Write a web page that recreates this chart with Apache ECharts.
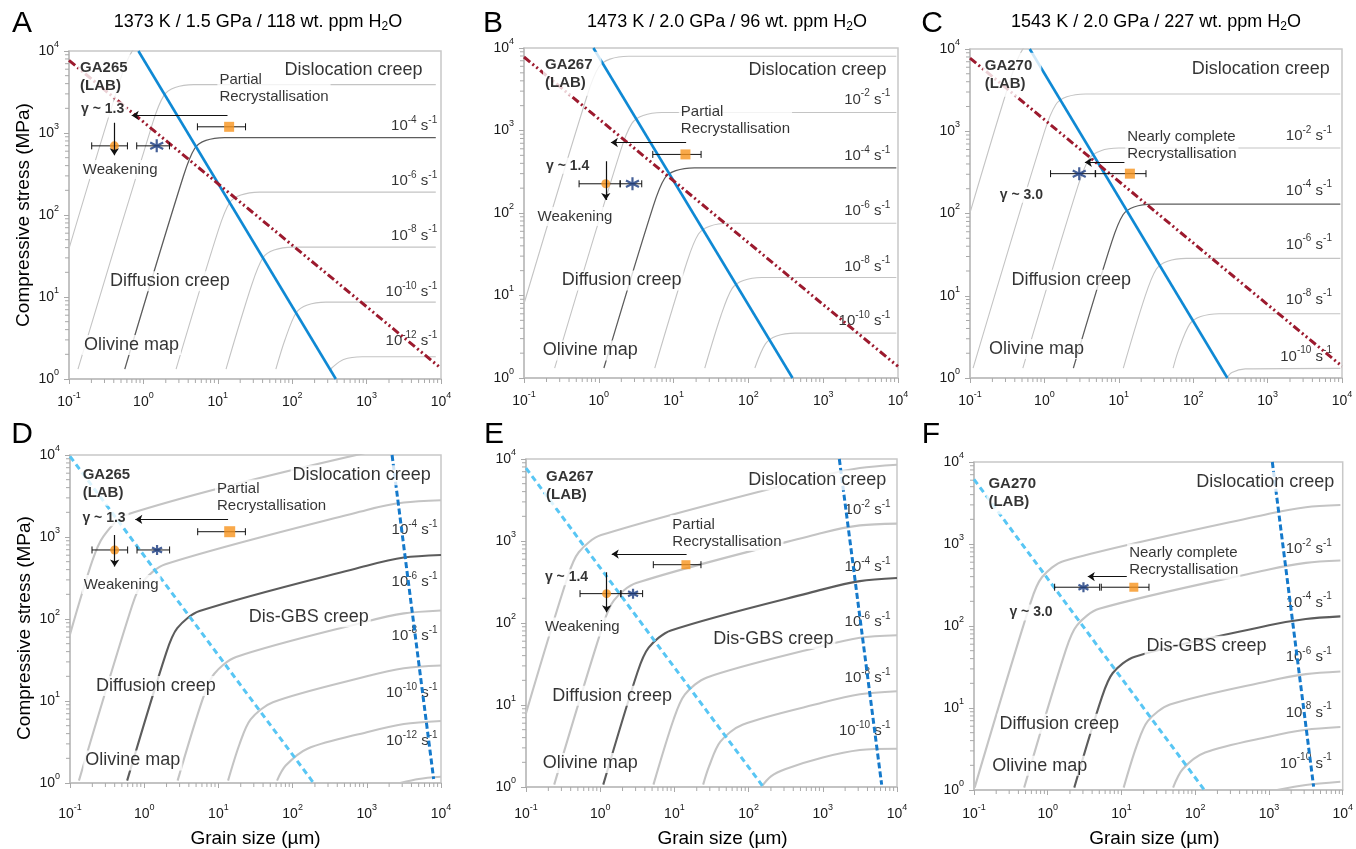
<!DOCTYPE html>
<html>
<head>
<meta charset="utf-8">
<style>
html, body { margin: 0; padding: 0; background: #fff; }
#main { width: 1356px; height: 849px; }
</style>
<script src="https://cdn.jsdelivr.net/npm/echarts@6/dist/echarts.min.js"></script>
</head>
<body>
<div id="main"></div>
<script>
// grain size in µm, stress in MPa
const decades = [0.1, 1, 10, 100, 1000, 10000];
const decadeExp = ['-1', '0', '1', '2', '3', '4'];
const minorMul = [2, 3, 4, 5, 6, 7, 8, 9];

const titles = [
  ['1373 K / 1.5 GPa / 118 wt. ppm H', '2', 'O'],
  ['1473 K / 2.0 GPa / 96 wt. ppm H', '2', 'O'],
  ['1543 K / 2.0 GPa / 227 wt. ppm H', '2', 'O']
];

// strain-rate contours, one array per panel
const contoursA = [
  [[0.1, 38.9], [0.493, 4570], [0.697, 9770], [1.0, 12300], [1.74, 13200], [8510, 13200]],
  [[0.132, 1.32], [1.34, 1350], [1.89, 2880], [2.67, 3590], [4.75, 3890], [8510, 3890]],
  [[0.562, 1.32], [3.48, 305], [4.91, 652], [6.93, 811], [12.3, 879], [8510, 879]],
  [[2.75, 1.32], [10.2, 65.8], [14.4, 141], [20.4, 175], [36.2, 190], [8510, 190]],
  [[12.9, 1.32], [28.6, 14.1], [40.4, 30.1], [57.0, 37.4], [101, 40.6], [8510, 40.6]],
  [[60.3, 1.32], [80.0, 3.01], [113, 6.43], [160, 8.0], [284, 8.67], [8510, 8.67]],
  [[324, 1.26], [347, 1.39], [490, 1.73], [871, 1.87], [8510, 1.87]]
];
const contoursB = [
  [[0.1, 7.94], [0.708, 2750], [1.0, 5890], [1.41, 7330], [2.51, 7940], [9500, 7940]],
  [[0.257, 1.32], [1.96, 573], [2.77, 1220], [3.92, 1520], [6.97, 1650], [9500, 1650]],
  [[1.17, 1.32], [5.36, 122], [7.57, 262], [10.7, 326], [19.0, 353], [9500, 353]],
  [[5.6, 1.32], [15.2, 26.0], [21.5, 55.6], [30.4, 69.2], [54.1, 75.0], [9500, 75.0]],
  [[26.1, 1.32], [43.0, 5.73], [60.7, 12.2], [85.7, 15.2], [152, 16.5], [9500, 16.5]],
  [[122, 1.32], [169, 2.59], [238, 3.23], [424, 3.5], [9500, 3.5]]
];
const contoursC = [
  [[0.1, 102], [0.357, 4570], [0.505, 9770], [0.713, 12200], [1.27, 13200], [9500, 13200]],
  [[0.11, 1.32], [1.0, 984], [1.42, 2100], [2.0, 2620], [3.56, 2840], [9500, 2840]],
  [[0.513, 1.32], [2.83, 217], [4.0, 463], [5.65, 577], [10.0, 625], [9500, 625]],
  [[2.45, 1.32], [8.04, 45.2], [11.4, 96.6], [16.0, 120], [28.5, 130], [9500, 130]],
  [[11.5, 1.32], [22.6, 9.89], [32.0, 21.1], [45.2, 26.3], [80.4, 28.5], [9500, 28.5]],
  [[53.7, 1.32], [63.2, 2.15], [89.3, 4.49], [126, 5.58], [224, 6.05], [9500, 6.05]],
  [[282, 1.0], [331, 1.17], [501, 1.29], [9500, 1.31]]
];
const contoursD = [
  [[0.1, 65], [0.2, 513], [0.282, 1020], [0.562, 1860], [1000, 10700], [10000, 14000]],
  [[0.132, 1.07], [0.685, 144], [0.968, 287], [1.93, 466], [1000, 2140], [3160, 2630], [10000, 2810]],
  [[0.589, 1.07], [1.98, 38.7], [2.79, 77.3], [5.57, 125], [1000, 447], [3160, 562], [10000, 604]],
  [[2.82, 1.07], [6.15, 10.6], [8.69, 21.2], [17.3, 34.4], [1000, 93.3], [3160, 117], [10000, 127]],
  [[13.5, 1.07], [19.3, 2.99], [27.2, 5.96], [54.3, 9.66], [1000, 20.0], [3160, 25.1], [10000, 27.1]],
  [[61.7, 1.07], [80.7, 1.63], [161, 2.64], [1000, 4.17], [3160, 5.25], [10000, 5.71]],
  [[2820, 1.0], [5010, 1.12], [10000, 1.19]]
];
const contoursE = [
  [[0.1, 7.94], [0.364, 366], [0.514, 729], [1.03, 1180], [1000, 6310], [3160, 7760], [10000, 8510]],
  [[0.24, 1.07], [1.09, 94.8], [1.53, 189], [3.06, 307], [1000, 1260], [3160, 1550], [10000, 1630]],
  [[1.1, 1.07], [3.18, 25.1], [4.5, 50.0], [8.97, 81.1], [1000, 257], [3160, 324], [10000, 354]],
  [[5.22, 1.07], [9.77, 6.7], [13.8, 13.4], [27.5, 21.7], [1000, 52.5], [3160, 66.1], [10000, 70.8]],
  [[24.4, 1.07], [29.3, 1.78], [41.4, 3.55], [82.6, 5.75], [1000, 10.7], [3160, 13.5], [10000, 14.7]],
  [[148, 1.0], [200, 1.35], [316, 1.66], [1000, 2.29], [3160, 2.82], [10000, 2.93]]
];
const contoursF = [
  [[0.102, 1.07], [0.59, 197], [0.834, 393], [1.66, 622], [1000, 2340], [3160, 2810], [9300, 2990]],
  [[0.479, 1.07], [1.76, 51.2], [2.49, 102], [4.97, 162], [1000, 490], [3160, 589], [9300, 628]],
  [[2.29, 1.07], [5.4, 13.4], [7.62, 26.7], [15.2, 42.3], [1000, 102], [3160, 122], [9300, 131]],
  [[10.7, 1.07], [16.1, 3.48], [22.7, 6.93], [45.4, 11.0], [1000, 21.4], [3160, 25.9], [9300, 27.9]],
  [[50.1, 1.07], [67.9, 1.8], [136, 2.86], [1000, 4.47], [3160, 5.42], [9300, 5.86]],
  [[1290, 1.0], [3160, 1.15], [9300, 1.26]]
];
const darkIdx = [2, 2, 3, 2, 2, 2]; // the 10^-4 s^-1 contour

// strain-rate labels: exponent, stress; right edge grain size
const rateLabelsA = [['-4', 1210], ['-6', 261], ['-8', 56.2], ['-10', 11.4], ['-12', 2.9]];
const rateLabelsB = [['-2', 2370], ['-4', 494], ['-6', 106], ['-8', 22.4], ['-10', 4.94]];
const rateLabelsC = [['-2', 867], ['-4', 191], ['-6', 41.8], ['-8', 8.95], ['-10', 1.83]];
const rateLabelsD = [['-4', 1220], ['-6', 281], ['-8', 61.5], ['-10', 12.6], ['-12', 3.27]];
const rateLabelsE = [['-2', 2370], ['-4', 478], ['-6', 103], ['-8', 21.3], ['-10', 4.78]];
const rateLabelsF = [['-2', 863], ['-4', 193], ['-6', 41.7], ['-8', 8.83], ['-10', 2.09]];
const rateX = [8900, 7890, 7330, 9020, 8220, 7110];

// field boundaries
const blueA = [[0.857, 10000], [386, 1]];
const redA = [[0.1, 7690], [10000, 1.35]];
const blueB = [[0.847, 10000], [389, 1]];
const redB = [[0.1, 7780], [10000, 1.38]];
const blueC = [[0.635, 10000], [288, 1]];
const redC = [[0.1, 7760], [10000, 1.39]];
const lightD = [[0.1, 9640], [192, 1]];
const darkD = [[2190, 10000], [7960, 1.12]];
const lightE = [[0.1, 7760], [158, 1]];
const darkE = [[1670, 10000], [6210, 1.07]];
const lightF = [[0.1, 6150], [131, 1.02]];
const darkF = [[1110, 10000], [4030, 1.1]];

// sample data
const squarePts = [[14.2, 1190], [14.4, 513], [14.1, 305], [14.2, 1160], [14.3, 514], [14.7, 297]];
const squareErr = [[5.32, 23.6], [5.27, 23.3], [4.88, 23.2], [5.26, 23.1], [5.2, 22.8], [5.32, 23.6]];
const starPts = [[1.51, 697], [2.82, 226], [2.94, 305], [1.49, 695], [2.77, 228], [3.05, 297]];
const starErr = [[0.813, 2.24], [1.93, 3.75], [1.21, 4.82], [0.8, 2.2], [1.9, 3.73], [1.24, 5.06]];
const circlePts = [[0.407, 697], [1.24, 226], null, [0.4, 695], [1.22, 228], null];
const circleErr = [[0.202, 0.61], [0.545, 1.93], null, [0.198, 0.598], [0.535, 1.9], null];
const arrowsH = [
  [[13.5, 1640], [0.697, 1640]], [[14.7, 716], [1.45, 716]], [[11.9, 419], [3.5, 419]],
  [[13.5, 1640], [0.759, 1640]], [[14.6, 693], [1.43, 693]], [[11.8, 401], [3.49, 401]]
];
const arrowsV = [[[0.407, 1330], [0.407, 536]], [[1.24, 425], [1.24, 144]], null,
  [[0.4, 1060], [0.4, 437]], [[1.22, 415], [1.22, 135]], null];

// annotations: text, grain size, stress, kind
const textsA = [
  ['GA265\n(LAB)', 0.141, 4900, 'bold'], ['γ ~ 1.3', 0.145, 1930, 'gam'],
  ['Partial\nRecrystallisation', 10.5, 3480, 'mid'], ['Dislocation creep', 78.9, 5930, 'big'],
  ['Weakening', 0.153, 358, 'mid'], ['Diffusion creep', 0.356, 15.6, 'big'], ['Olivine map', 0.159, 2.59, 'big']
];
const textsB = [
  ['GA267\n(LAB)', 0.191, 4870, 'bold'], ['γ ~ 1.4', 0.197, 374, 'gam'],
  ['Partial\nRecrystallisation', 12.5, 1310, 'mid'], ['Dislocation creep', 100, 5370, 'big'],
  ['Weakening', 0.152, 90.4, 'mid'], ['Diffusion creep', 0.319, 15.2, 'big'], ['Olivine map', 0.178, 2.16, 'big']
];
const textsC = [
  ['GA270\n(LAB)', 0.158, 4850, 'bold'], ['γ ~ 3.0', 0.251, 169, 'gam'],
  ['Nearly complete\nRecrystallisation', 13.0, 674, 'mid'], ['Dislocation creep', 95.5, 5710, 'big'],
  ['Diffusion creep', 0.36, 15.7, 'big'], ['Olivine map', 0.18, 2.25, 'big']
];
const textsD = [
  ['GA265\n(LAB)', 0.148, 4470, 'bold'], ['γ ~ 1.3', 0.147, 1690, 'gam'],
  ['Partial\nRecrystallisation', 9.57, 3030, 'mid'], ['Dislocation creep', 100, 5660, 'big'],
  ['Weakening', 0.153, 264, 'mid'], ['Dis-GBS creep', 25.6, 105, 'big'],
  ['Diffusion creep', 0.224, 15.2, 'big'], ['Olivine map', 0.161, 1.88, 'big']
];
const textsE = [
  ['GA267\n(LAB)', 0.186, 4750, 'bold'], ['γ ~ 1.4', 0.18, 361, 'gam'],
  ['Partial\nRecrystallisation', 9.38, 1250, 'mid'], ['Dislocation creep', 99, 5500, 'big'],
  ['Weakening', 0.18, 89.3, 'mid'], ['Dis-GBS creep', 33.5, 63.8, 'big'],
  ['Diffusion creep', 0.226, 13.0, 'big'], ['Olivine map', 0.168, 1.96, 'big']
];
const textsF = [
  ['GA270\n(LAB)', 0.157, 4260, 'bold'], ['γ ~ 3.0', 0.302, 146, 'gam'],
  ['Nearly complete\nRecrystallisation', 12.7, 611, 'mid'], ['Dislocation creep', 103, 5760, 'big'],
  ['Dis-GBS creep', 21.9, 57.3, 'big'], ['Diffusion creep', 0.221, 6.43, 'big'], ['Olivine map', 0.177, 1.98, 'big']
];

// ---------- layout / style ----------
const FONT = "'Liberation Sans', Arial, Helvetica, sans-serif";
const INK = '#000';
const grids = [
  { left: 69, top: 51, width: 372, height: 328 },
  { left: 524, top: 48, width: 374, height: 330 },
  { left: 970, top: 49, width: 372, height: 329 },
  { left: 70, top: 455, width: 371, height: 329 },
  { left: 526, top: 459, width: 371, height: 328 },
  { left: 974, top: 462, width: 372, height: 328 }
];
const contours = [contoursA, contoursB, contoursC, contoursD, contoursE, contoursF];
const rateLabels = [rateLabelsA, rateLabelsB, rateLabelsC, rateLabelsD, rateLabelsE, rateLabelsF];
const texts = [textsA, textsB, textsC, textsD, textsE, textsF];
const boundaries = [
  [[blueA, 'blue'], [redA, 'red']], [[blueB, 'blue'], [redB, 'red']], [[blueC, 'blue'], [redC, 'red']],
  [[lightD, 'light'], [darkD, 'dark']], [[lightE, 'light'], [darkE, 'dark']], [[lightF, 'light'], [darkF, 'dark']]
];
const lineKinds = {
  blue: { color: '#0f89d4', width: 2.6, type: 'solid' },
  red: { color: '#9c1a2e', width: 3, type: [8, 3, 2, 3, 2, 3] },
  light: { color: '#58c6f4', width: 3, type: [6, 4] },
  dark: { color: '#1479cb', width: 3, type: [6, 3] }
};
const textKinds = {
  big: { fontSize: 18, color: INK, backgroundColor: '#fff', padding: [1, 2] },
  mid: { fontSize: 15, lineHeight: 17, color: INK, backgroundColor: '#fff', padding: [1, 2] },
  bold: { fontSize: 15, lineHeight: 18, fontWeight: 'bold', color: INK, backgroundColor: '#fff', padding: [2, 9, 6, 2] },
  gam: { fontSize: 14, fontWeight: 'bold', color: INK, backgroundColor: '#fff', padding: [1, 3, 1, 2] }
};
const supRich = {
  n: { fontSize: 14, lineHeight: 22, verticalAlign: 'middle', color: '#1a1a1a', fontFamily: FONT },
  s: { fontSize: 9, lineHeight: 10, verticalAlign: 'top', color: '#1a1a1a', fontFamily: FONT }
};
const rateRich = {
  n: { fontSize: 15, lineHeight: 22, verticalAlign: 'middle', color: INK, fontFamily: FONT },
  s: { fontSize: 10, lineHeight: 10, verticalAlign: 'top', color: INK, fontFamily: FONT }
};

function expLabel(v) {
  const i = decades.findIndex(d => Math.abs(v / d - 1) < 1e-6);
  return i < 0 ? '' : '{n|10}{s|' + decadeExp[i] + '}';
}

const minorVals = [];
decades.slice(0, -1).forEach(d => minorMul.forEach(m => minorVals.push(d * m)));
const minorData = minorVals.map(v => [v, 1, 0]).concat(minorVals.filter(v => v > 1).map(v => [1, v, 1]));

function renderMinor(params, api) {
  const cs = params.coordSys;
  const st = { stroke: '#a9a9a9', lineWidth: 1 };
  if (api.value(2) === 0) {
    const x = api.coord([api.value(0), 1])[0];
    return { type: 'line', shape: { x1: x, y1: cs.y + cs.height, x2: x, y2: cs.y + cs.height + 4 }, style: st };
  }
  const y = api.coord([1, api.value(1)])[1];
  return { type: 'line', shape: { x1: cs.x - 4, y1: y, x2: cs.x, y2: y }, style: st };
}

function renderErr(params, api) {
  const y = api.value(2);
  const p1 = api.coord([api.value(0), y]);
  const p2 = api.coord([api.value(1), y]);
  const h = 3.5;
  const st = { stroke: '#111', lineWidth: 1 };
  return {
    type: 'group', children: [
      { type: 'line', shape: { x1: p1[0], y1: p1[1], x2: p2[0], y2: p2[1] }, style: st },
      { type: 'line', shape: { x1: p1[0], y1: p1[1] - h, x2: p1[0], y2: p1[1] + h }, style: st },
      { type: 'line', shape: { x1: p2[0], y1: p2[1] - h, x2: p2[0], y2: p2[1] + h }, style: st }
    ]
  };
}

const starPath = 'path://M10 0L10 20M1.34 5L18.66 15M1.34 15L18.66 5';
const xLabelMargin = [12, 12, 12, 20, 16, 13];

const xAxis = grids.map((g, i) => ({
  type: 'log', logBase: 10, gridIndex: i, min: 0.1, max: 10000,
  axisLine: { show: true, lineStyle: { color: '#bdbdbd', width: 1.5 } },
  axisTick: { show: true, length: 5, lineStyle: { color: '#a9a9a9' } },
  splitLine: { show: false },
  axisLabel: { formatter: expLabel, rich: supRich, margin: xLabelMargin[i], showMinLabel: true, showMaxLabel: true },
  name: i >= 3 ? 'Grain size (µm)' : '',
  nameLocation: 'middle', nameGap: i === 3 ? 46 : (i === 4 ? 42 : 39),
  nameTextStyle: { fontSize: 19, color: INK, fontFamily: FONT, padding: i === 4 ? [0, 0, 0, 22] : (i === 5 ? [0, 8, 0, 0] : 0) }
}));
const yAxis = grids.map((g, i) => ({
  type: 'log', logBase: 10, gridIndex: i, min: 1, max: 10000,
  axisLine: { show: true, lineStyle: { color: '#bdbdbd', width: 1.5 } },
  axisTick: { show: true, length: 5, lineStyle: { color: '#a9a9a9' } },
  splitLine: { show: false },
  axisLabel: { formatter: expLabel, rich: supRich, margin: 10, showMinLabel: true, showMaxLabel: true },
  name: (i === 0 || i === 3) ? 'Compressive stress (MPa)' : '',
  nameLocation: 'middle', nameGap: 36,
  nameTextStyle: { fontSize: 19, color: INK, fontFamily: FONT, padding: i === 3 ? [0, 18, 0, 0] : 0 }
}));

const series = [];
for (let i = 0; i < 6; i++) {
  const top = i < 3;
  const ax = { xAxisIndex: i, yAxisIndex: i, silent: true, animation: false };
  series.push(Object.assign({ type: 'custom', renderItem: renderMinor, data: minorData, z: 1, clip: false }, ax));
  contours[i].forEach((c, k) => {
    const dark = k === darkIdx[i];
    series.push(Object.assign({
      type: 'line', data: c, symbol: 'none', smooth: 0.3, z: 2,
      lineStyle: { color: dark ? '#5c5c5c' : '#c4c4c4', width: top ? (dark ? 1.3 : 1.1) : 2.1 }
    }, ax));
  });
  series.push(Object.assign({
    type: 'scatter', symbolSize: 0, z: 3,
    data: rateLabels[i].map(r => ({
      value: [rateX[i], r[1]],
      label: { show: true, position: 'left', distance: 0, formatter: '{n|10}{s|' + r[0] + '}{n| s}{s|-1}', rich: rateRich }
    }))
  }, ax));
  boundaries[i].forEach(b => series.push(Object.assign({
    type: 'line', data: b[0], symbol: 'none', z: 4, lineStyle: lineKinds[b[1]]
  }, ax)));
  series.push(Object.assign({
    type: 'scatter', symbolSize: 0, z: 5,
    data: texts[i].map(t => ({
      value: [t[1], t[2]],
      label: Object.assign({ show: true, position: 'right', distance: -2, formatter: t[0], fontFamily: FONT, align: 'left' }, textKinds[t[3]])
    }))
  }, ax));
  const errs = [[squareErr[i][0], squareErr[i][1], squarePts[i][1]], [starErr[i][0], starErr[i][1], starPts[i][1]]];
  if (circleErr[i]) errs.push([circleErr[i][0], circleErr[i][1], circlePts[i][1]]);
  series.push(Object.assign({ type: 'custom', renderItem: renderErr, data: errs, z: 6 }, ax));
  const pts = [
    { value: squarePts[i], symbol: 'rect', symbolSize: i === 3 ? 11 : (top ? 10 : 9), itemStyle: { color: '#f7941d' } },
    { value: starPts[i], symbol: starPath, symbolSize: top ? 13 : 10, itemStyle: { color: 'rgba(0,0,0,0)', borderColor: '#17387e', borderWidth: 2.2 } }
  ];
  if (circlePts[i]) pts.push({ value: circlePts[i], symbol: 'circle', symbolSize: 9, itemStyle: { color: '#f7941d' } });
  series.push(Object.assign({ type: 'scatter', data: pts, z: 7 }, ax));
  const arr = [{ coords: arrowsH[i] }];
  if (arrowsV[i]) arr.push({ coords: arrowsV[i] });
  series.push(Object.assign({
    type: 'lines', coordinateSystem: 'cartesian2d', data: arr, symbol: ['none', 'arrow'], symbolSize: 7, z: 8,
    lineStyle: { color: '#111', width: 1.2, opacity: 1 }
  }, ax));
}

const letters = [['A', 22, 24], ['B', 493, 24], ['C', 932, 24], ['D', 22, 435], ['E', 494, 435], ['F', 931, 435]];
const titlePos = [[258, 22], [727, 22], [1156, 22]];
const graphic = letters.map(l => ({
  type: 'text', x: l[1], y: l[2], z: 10,
  style: { text: l[0], fontSize: 30, fontFamily: FONT, fill: INK, align: 'center', verticalAlign: 'middle' }
})).concat(titles.map((t, i) => ({
  type: 'text', x: titlePos[i][0], y: titlePos[i][1], z: 10,
  style: {
    text: '{t|' + t[0] + '}{b|' + t[1] + '}{t|' + t[2] + '}', align: 'center', verticalAlign: 'middle', fill: INK,
    rich: {
      t: { fontSize: 18, fontFamily: FONT, lineHeight: 22, verticalAlign: 'middle', fill: INK },
      b: { fontSize: 12, fontFamily: FONT, lineHeight: 12, verticalAlign: 'bottom', fill: INK }
    }
  }
})));

const chart = echarts.init(document.getElementById('main'), null, { renderer: 'canvas' });
chart.setOption({
  animation: false,
  backgroundColor: '#fff',
  textStyle: { fontFamily: FONT },
  grid: grids.map(g => Object.assign({ show: true, borderColor: '#c8c8c8', borderWidth: 1.5, backgroundColor: 'transparent' }, g)),
  xAxis: xAxis,
  yAxis: yAxis,
  graphic: graphic,
  series: series
});
</script>
</body>
</html>
